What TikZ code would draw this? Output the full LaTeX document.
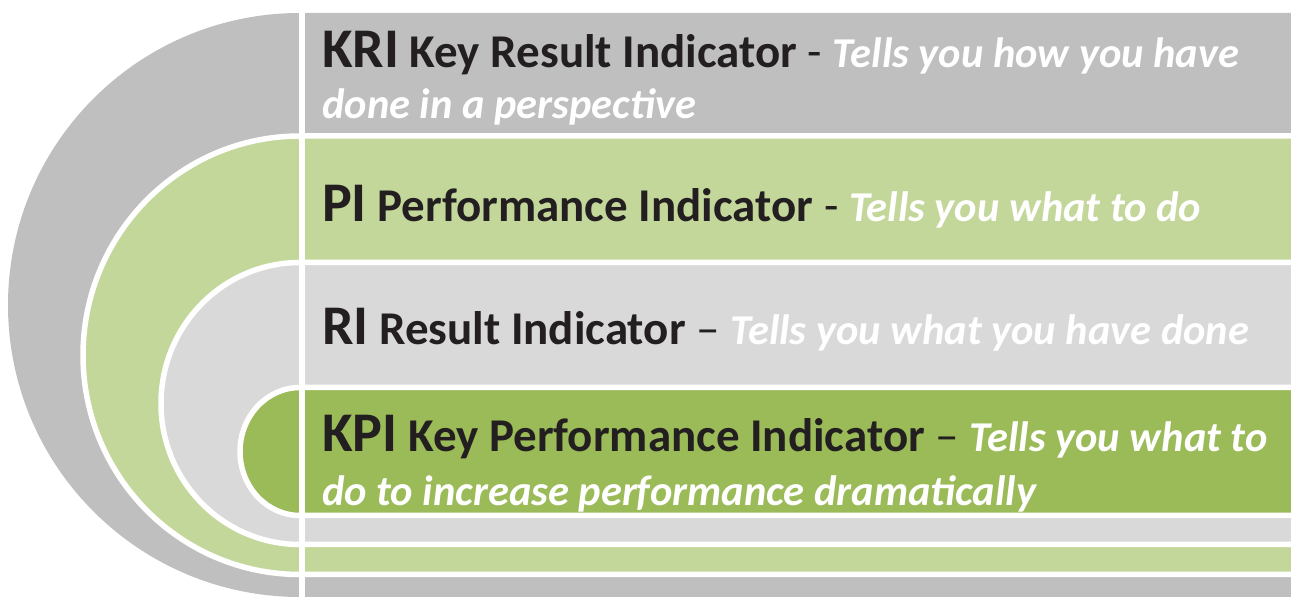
\documentclass[tikz,border=0pt]{standalone}
\usepackage{fontspec}
\setmainfont{Carlito}
\usetikzlibrary{positioning}

\definecolor{kriGray}{HTML}{BFBFBF}
\definecolor{piGreen}{HTML}{C4D79B}
\definecolor{riGray}{HTML}{D9D9D9}
\definecolor{kpiGreen}{HTML}{9BBB59}
\definecolor{inkDark}{HTML}{231F20}

\newcommand{\shortname}[1]{{\fontsize{56}{60}\selectfont\bfseries #1}}
\newcommand{\longname}[1]{{\bfseries #1}}
\newcommand{\remark}[1]{{\fontsize{42.5}{50}\selectfont\bfseries\itshape\color{white}#1}}

\begin{document}
\begin{tikzpicture}[
                                x = 1pt,
                                y = 1pt,
                                band/.style = {fill = #1, draw = white, line width = 5.5pt}
                                ]

                                \tikzstyle{line}=[
                                        inner sep = 0pt,
                                        anchor = base west,
                                        text = inkDark,
                                        font = \fontsize{47}{52}\selectfont
                                ]

                                \useasboundingbox (0,0) rectangle (1291,597);
                                \clip (0,0) rectangle (1291,597);

                                % bands, outside in
                                \fill[kriGray] (1300,584) -- (300,584) arc[start angle=90, end angle=270, x radius=292, y radius=292] -- (1300,0) -- cycle;
                                \path[band=piGreen] (1300,461) -- (300,461) arc[start angle=90, end angle=270, x radius=217, y radius=219.25] -- (1300,22.5) -- cycle;
                                \path[band=riGray] (1300,334.5) -- (300,334.5) arc[start angle=90, end angle=270, x radius=139, y radius=141] -- (1300,52.5) -- cycle;
                                \path[band=kpiGreen] (1300,209.5) -- (300,209.5) arc[start angle=90, end angle=270, x radius=60, y radius=64] -- (1300,81.5) -- cycle;

                                % divider
                                \draw[white, line width = 6pt] (301.5,600) -- (301.5,-3);

                                \node[line] (kri1) at (322,529) {\shortname{KRI} \longname{Key Result Indicator} - \remark{Tells you how you have}};
                                \node[line] (kri2) at ([yshift=-51pt]kri1.base west) {\remark{done in a perspective}};
                                \node[line] (pi) at (322,375) {\shortname{PI} \longname{Performance Indicator} - \remark{Tells you what to do}};
                                \node[line] (ri) at (322,252) {\shortname{RI} \longname{Result Indicator} – \remark{Tells you what you have done}};
                                \node[line] (kpi1) at (322,145) {\shortname{KPI} \longname{Key Performance Indicator} – \remark{Tells you what to}};
                                \node[line] (kpi2) at ([yshift=-54pt]kpi1.base west) {\remark{do to increase performance dramatically}};
\end{tikzpicture}
\end{document}
